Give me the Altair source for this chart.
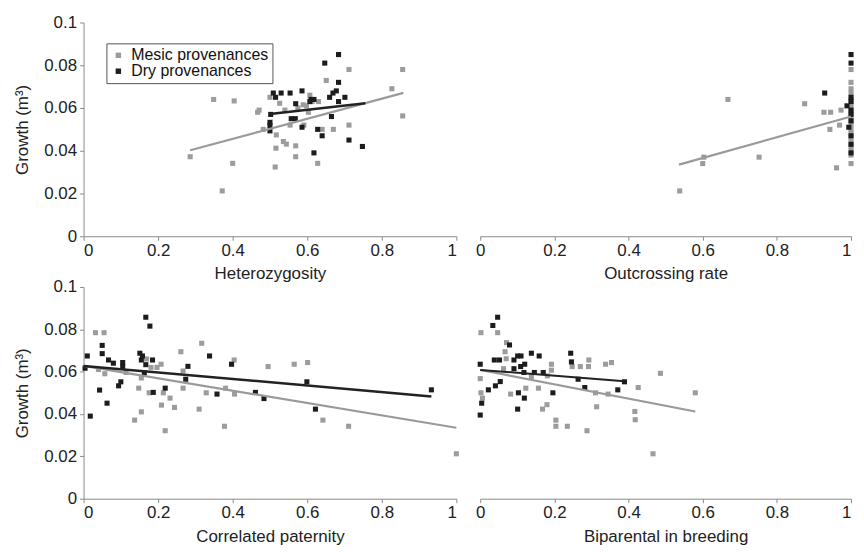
import altair as alt
import pandas as pd

GROUPS = ["Mesic provenances", "Dry provenances"]
COLORS = ["#9c9c9c", "#1c1c1c"]
LINE_COLORS = ["#9a9a9a", "#222222"]
FONT = "Liberation Sans"

# ---- Panel 1: Heterozygosity ----
het_mesic_x = [0.286, 0.349, 0.404, 0.400, 0.372, 0.467, 0.471, 0.482, 0.500, 0.526, 0.607, 0.651,
               0.712, 0.856, 0.827, 0.856, 0.712, 0.670, 0.640, 0.569, 0.569, 0.514, 0.628, 0.516,
               0.517, 0.536, 0.544, 0.554, 0.591, 0.589, 0.598, 0.613, 0.575, 0.540, 0.630, 0.603]
het_mesic_y = [0.0372, 0.0640, 0.0633, 0.0341, 0.0212, 0.0580, 0.0590, 0.0500, 0.0650, 0.0622, 0.0660, 0.0729,
               0.0780, 0.0780, 0.0690, 0.0563, 0.0520, 0.0500, 0.0500, 0.0423, 0.0372, 0.0324, 0.0341, 0.0412,
               0.0474, 0.0443, 0.0431, 0.0520, 0.0520, 0.0615, 0.0610, 0.0630, 0.0600, 0.0590, 0.0630, 0.0580]
het_dry_x = [0.684, 0.647, 0.684, 0.509, 0.530, 0.554, 0.586, 0.515, 0.569, 0.610, 0.618, 0.607,
             0.660, 0.669, 0.678, 0.684, 0.701, 0.502, 0.500, 0.500, 0.500, 0.557, 0.568, 0.586,
             0.628, 0.640, 0.665, 0.618, 0.712, 0.748]
het_dry_y = [0.0850, 0.0810, 0.0720, 0.0670, 0.0670, 0.0670, 0.0680, 0.0650, 0.0620, 0.0640, 0.0640, 0.0630,
             0.0650, 0.0670, 0.0680, 0.0630, 0.0650, 0.0570, 0.0533, 0.0518, 0.0493, 0.0550, 0.0550, 0.0510,
             0.0500, 0.0470, 0.0560, 0.0390, 0.0450, 0.0420]
het_mesic_line_x = [0.286, 0.858]
het_mesic_line_y = [0.0402, 0.0671]
het_dry_line_x = [0.500, 0.756]
het_dry_line_y = [0.0572, 0.0622]

# ---- Panel 2: Outcrossing rate ----
out_mesic_x = [0.538, 0.600, 0.603, 0.668, 0.752, 0.875, 0.927, 0.945, 0.973, 0.943, 0.969, 0.961,
               1, 1, 1, 1, 1, 1, 1, 1, 1, 1, 1, 1, 1, 1, 1, 1, 1, 1, 1]
out_mesic_y = [0.0212, 0.0340, 0.0370, 0.0640, 0.0370, 0.0620, 0.0580, 0.0580, 0.0590, 0.0500, 0.0520, 0.0320,
               0.078, 0.072, 0.069, 0.067, 0.064, 0.062, 0.060, 0.058, 0.056, 0.054, 0.052, 0.050,
               0.048, 0.046, 0.044, 0.042, 0.040, 0.038, 0.034]
out_dry_x = [0.929, 0.989, 0.994, 1, 1, 1, 1, 1, 1, 1, 1, 1, 1]
out_dry_y = [0.067, 0.061, 0.051, 0.085, 0.081, 0.065, 0.063, 0.059, 0.057, 0.054, 0.047, 0.043, 0.039]
out_mesic_line_x = [0.536, 1.0]
out_mesic_line_y = [0.0335, 0.0560]

# ---- Panel 3: Correlated paternity ----
cp_mesic_x = [0.032, 0.055, 0.040, 0.057, 0.114, 0.148, 0.155, 0.137, 0.155, 0.169, 0.176, 0.181,
              0.197, 0.208, 0.209, 0.214, 0.219, 0.232, 0.244, 0.261, 0.267, 0.267, 0.317, 0.310,
              0.329, 0.378, 0.381, 0.405, 0.404, 0.495, 0.565, 0.601, 0.642, 0.711, 1.000]
cp_mesic_y = [0.0784, 0.0784, 0.0610, 0.0590, 0.0596, 0.0522, 0.0410, 0.0371, 0.0570, 0.0660, 0.0500, 0.0620,
              0.0620, 0.0635, 0.0442, 0.0500, 0.0321, 0.0475, 0.0431, 0.0694, 0.0522, 0.0603, 0.0734, 0.0423,
              0.0500, 0.0342, 0.0522, 0.0494, 0.0655, 0.0624, 0.0635, 0.0643, 0.0371, 0.0342, 0.0212]
cp_dry_x = [0.004, 0.010, 0.018, 0.043, 0.050, 0.050, 0.067, 0.063, 0.080, 0.094, 0.100, 0.105,
            0.105, 0.151, 0.155, 0.158, 0.167, 0.178, 0.163, 0.167, 0.185, 0.187, 0.219, 0.274,
            0.280, 0.338, 0.358, 0.397, 0.461, 0.484, 0.599, 0.622, 0.933]
cp_dry_y = [0.0616, 0.0674, 0.0390, 0.0513, 0.0724, 0.0685, 0.0655, 0.0451, 0.0640, 0.0533, 0.0552, 0.0643,
            0.0624, 0.0687, 0.0655, 0.0674, 0.0857, 0.0815, 0.0594, 0.0633, 0.0655, 0.0502, 0.0522, 0.0564,
            0.0625, 0.0674, 0.0494, 0.0635, 0.0502, 0.0473, 0.0552, 0.0423, 0.0514]
cp_mesic_line_x = [0.0, 1.0]
cp_mesic_line_y = [0.0627, 0.0335]
cp_dry_line_x = [0.0, 0.933]
cp_dry_line_y = [0.0627, 0.0483]

# ---- Panel 4: Biparental in breeding ----
bp_mesic_x = [0.002, 0.047, 0.000, 0.002, 0.006, 0.071, 0.067, 0.070, 0.063, 0.082, 0.123, 0.138,
              0.157, 0.168, 0.180, 0.181, 0.192, 0.192, 0.204, 0.204, 0.235, 0.248, 0.270, 0.293,
              0.292, 0.288, 0.311, 0.314, 0.338, 0.354, 0.345, 0.417, 0.418, 0.426, 0.466, 0.486, 0.580]
bp_mesic_y = [0.0784, 0.0784, 0.0567, 0.0500, 0.0475, 0.0737, 0.0694, 0.0661, 0.0614, 0.0494, 0.0522, 0.0577,
              0.0522, 0.0423, 0.0444, 0.0580, 0.0635, 0.0607, 0.0371, 0.0342, 0.0342, 0.0624, 0.0624, 0.0655,
              0.0624, 0.0321, 0.0500, 0.0434, 0.0635, 0.0643, 0.0494, 0.0412, 0.0373, 0.0525, 0.0212, 0.0592, 0.0500]
bp_dry_x = [0.000, 0.000, 0.004, 0.022, 0.034, 0.047, 0.038, 0.052, 0.041, 0.054, 0.079, 0.091,
            0.091, 0.101, 0.110, 0.109, 0.120, 0.118, 0.138, 0.159, 0.146, 0.170, 0.103, 0.119,
            0.101, 0.196, 0.244, 0.246, 0.264, 0.282, 0.371, 0.389]
bp_dry_y = [0.0635, 0.0395, 0.0451, 0.0514, 0.0818, 0.0857, 0.0655, 0.0655, 0.0533, 0.0553, 0.0726, 0.0655,
            0.0614, 0.0674, 0.0674, 0.0624, 0.0635, 0.0596, 0.0687, 0.0674, 0.0596, 0.0596, 0.0500, 0.0475,
            0.0423, 0.0500, 0.0687, 0.0646, 0.0564, 0.0525, 0.0514, 0.0552]
bp_mesic_line_x = [0.0, 0.580]
bp_mesic_line_y = [0.0608, 0.0412]
bp_dry_line_x = [0.0, 0.389]
bp_dry_line_y = [0.0608, 0.0555]

X_TICKS = [0, 0.2, 0.4, 0.6, 0.8, 1]
Y_TICKS = [0, 0.02, 0.04, 0.06, 0.08, 0.1]


def panel(mx, my, dx, dy, lines, xtitle, show_y, show_legend, width, height):
    pts = pd.DataFrame({
        "x": list(mx) + list(dx),
        "y": list(my) + list(dy),
        "group": [GROUPS[0]] * len(mx) + [GROUPS[1]] * len(dx),
    })
    xkw = dict(values=X_TICKS, format="~g", title=xtitle, grid=False,
               tickSize=4, labelPadding=2, titlePadding=8,
               domainColor="#8a8a8a", tickColor="#8a8a8a")
    if not show_y:
        # right-hand panels sit at the page edge: keep the last label inside
        xkw["labelAlign"] = {"condition": {"test": "datum.value == 1", "value": "right"},
                             "value": "center"}
    xax = alt.Axis(**xkw)
    if show_y:
        yax = alt.Axis(values=Y_TICKS, format="~g", title="Growth (m³)", grid=False,
                       tickSize=4, labelPadding=3, titlePadding=12,
                       domainColor="#8a8a8a", tickColor="#8a8a8a")
    else:
        yax = None
    if show_legend:
        leg = alt.Legend(title=None, orient="none", legendX=23, legendY=21,
                         strokeColor="#555555", fillColor="white", padding=4,
                         labelFontSize=16, labelFont=FONT, symbolSize=30,
                         symbolType="square", labelOffset=5, rowPadding=0,
                         symbolOpacity=1, symbolStrokeWidth=0, labelColor="#111111")
    else:
        leg = None
    xs = alt.Scale(domain=[0, 1], nice=False)
    ys = alt.Scale(domain=[0, 0.1], nice=False)
    points = alt.Chart(pts).mark_square(size=26, opacity=1, filled=True).encode(
        x=alt.X("x:Q", scale=xs, axis=xax),
        y=alt.Y("y:Q", scale=ys, axis=yax),
        color=alt.Color("group:N", scale=alt.Scale(domain=GROUPS, range=COLORS),
                        legend=leg, sort=GROUPS),
        order=alt.Order("ord:Q"),
    ).transform_calculate(ord="datum.group == 'Mesic provenances' ? 0 : 1")
    layers = [points]
    for (lx, ly, col, w) in lines:
        ldf = pd.DataFrame({"x": lx, "y": ly})
        layers.append(alt.Chart(ldf).mark_line(color=col, strokeWidth=w).encode(
            x=alt.X("x:Q", scale=xs), y=alt.Y("y:Q", scale=ys)))
    return alt.layer(*layers).properties(width=width, height=height)


p1 = panel(het_mesic_x, het_mesic_y, het_dry_x, het_dry_y,
           [(het_mesic_line_x, het_mesic_line_y, LINE_COLORS[0], 2.2),
            (het_dry_line_x, het_dry_line_y, LINE_COLORS[1], 2.5)],
           "Heterozygosity", True, True, 375, 215)
p2 = panel(out_mesic_x, out_mesic_y, out_dry_x, out_dry_y,
           [(out_mesic_line_x, out_mesic_line_y, LINE_COLORS[0], 2.2)],
           "Outcrossing rate", False, False, 373, 215)
p3 = panel(cp_mesic_x, cp_mesic_y, cp_dry_x, cp_dry_y,
           [(cp_mesic_line_x, cp_mesic_line_y, LINE_COLORS[0], 2.2),
            (cp_dry_line_x, cp_dry_line_y, LINE_COLORS[1], 2.5)],
           "Correlated paternity", True, False, 375, 213)
p4 = panel(bp_mesic_x, bp_mesic_y, bp_dry_x, bp_dry_y,
           [(bp_mesic_line_x, bp_mesic_line_y, LINE_COLORS[0], 2.2),
            (bp_dry_line_x, bp_dry_line_y, LINE_COLORS[1], 2.0)],
           "Biparental in breeding", False, False, 373, 213)

chart = alt.concat(p1, p2, p3, p4, columns=2, spacing={"row": 51, "column": 24},
                   bounds="flush").resolve_legend(
    color="independent"
).configure_view(stroke=None).configure_axis(
    labelFont=FONT, titleFont=FONT, labelFontSize=17, titleFontSize=17,
    labelColor="#222222", titleColor="#222222", titleFontWeight="normal"
).properties(padding={"left": 5, "top": 4, "right": 0, "bottom": 0})

chart.save("out.html", embed_options={"renderer": "svg", "actions": False})
